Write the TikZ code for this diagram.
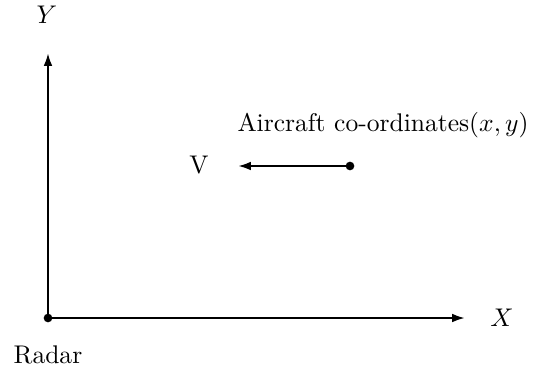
\documentclass[tikz,border=0pt]{standalone}
\usetikzlibrary{arrows.meta}
\begin{document}
\begin{tikzpicture}[x=0.3914pt,y=-0.3914pt,
  axis/.style={line width=0.9pt,-{Latex[length=5pt,width=3.4pt]}},
  dotmark/.style={circle,fill=black,inner sep=0pt,minimum size=3.4pt},
  lbl/.style={inner sep=0pt}]
\useasboundingbox (0,0) rectangle (538,372);
\node[dotmark] (O) at (48,318) {};
\coordinate (Ytip) at (48,53);
\coordinate (Xtip) at (465,318);
\draw[axis] (O.center) -- (Ytip);
\draw[axis] (O.center) -- (Xtip);
\node[lbl] (Y) at (47,15) {$Y$};
\node[lbl] (X) at (502,318) {$X$};
\node[lbl] (R) at (48,355) {Radar};
\node[dotmark] (P) at (350,166) {};
\coordinate (Vend) at (238,166);
\draw[axis] (P.center) -- (Vend);
\node[lbl] (V) at (199,165) {V};
\node[lbl] (A) at (383,125) {Aircraft co-ordinates$(x,y)$};
\end{tikzpicture}
\end{document}
